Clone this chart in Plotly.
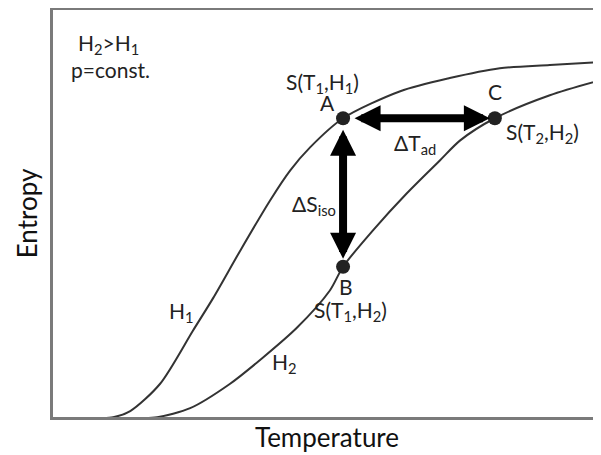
import plotly.graph_objects as go

# Curve H1 (lower field): temperature (0-100) vs entropy (0-100)
t_h1 = [0, 8.9, 11.3, 14.4, 19.8, 25.8, 29.5, 34.4, 39.8, 43.5, 47.1, 53.1, 63.5, 72.5, 81.6, 90.7, 100]
s_h1 = [0, 0, 0.2, 1.7, 8.3, 21.3, 29.3, 40.8, 53.0, 60.4, 66.0, 73.1, 79.7, 82.9, 85.3, 86.1, 86.8]

# Curve H2 (higher field)
t_h2 = [0, 16.2, 19.3, 25.3, 32.5, 38.5, 44.7, 50.7, 53.1, 58.5, 64.7, 70.7, 74.4, 80.7, 90.7, 100]
s_h2 = [0, 0, 0.2, 2.4, 8.3, 14.7, 22.0, 31.1, 36.9, 45.7, 54.8, 62.8, 67.7, 73.1, 78.7, 82.4]

# State points A, B, C
pt_names = ["A", "B", "C"]
pt_t = [53.1, 53.1, 80.7]
pt_s = [73.1, 36.9, 73.1]

FONT = "Lato"
CURVE = "#333333"
FRAME = "#7a7a7a"

fig = go.Figure()
fig.add_trace(go.Scatter(x=t_h1, y=s_h1, mode="lines", name="H1",
                         line=dict(color=CURVE, width=2, shape="spline", smoothing=0.8),
                         hoverinfo="skip"))
fig.add_trace(go.Scatter(x=t_h2, y=s_h2, mode="lines", name="H2",
                         line=dict(color=CURVE, width=2, shape="spline", smoothing=0.8),
                         hoverinfo="skip"))
fig.add_trace(go.Scatter(x=pt_t, y=pt_s, mode="markers", text=pt_names,
                         marker=dict(color="#222222", size=14)))

A = (pt_t[0], pt_s[0])
B = (pt_t[1], pt_s[1])
C = (pt_t[2], pt_s[2])

anns = []
# double arrows
anns.append(dict(x=C[0], y=C[1], ax=A[0], ay=A[1], xref="x", yref="y", axref="x", ayref="y",
                 text="", showarrow=True, arrowside="end+start", arrowhead=2, startarrowhead=2,
                 arrowsize=0.65, startarrowsize=0.65, arrowwidth=8, arrowcolor="#000000",
                 standoff=5, startstandoff=10))
anns.append(dict(x=B[0], y=B[1], ax=A[0], ay=A[1], xref="x", yref="y", axref="x", ayref="y",
                 text="", showarrow=True, arrowside="end+start", arrowhead=2, startarrowhead=2,
                 arrowsize=0.65, startarrowsize=0.65, arrowwidth=8, arrowcolor="#000000",
                 standoff=8, startstandoff=10))

labels = [
    ("H<sub>2</sub>>H<sub>1</sub>", 10.4, 91.3),
    ("p=const.", 10.9, 85.1),
    ("S(T<sub>1</sub>,H<sub>1</sub>)", 49.3, 81.6),
    ("A", 50.2, 77.0),
    ("C", 80.7, 79.7),
    ("S(T<sub>2</sub>,H<sub>2</sub>)", 89.3, 69.5),
    ("ΔT<sub>ad</sub>", 66.2, 66.8),
    ("ΔS<sub>iso</sub>", 47.8, 51.9),
    ("B", 53.6, 32.0),
    ("S(T<sub>1</sub>,H<sub>2</sub>)", 54.5, 26.0),
    ("H<sub>1</sub>", 23.8, 25.8),
    ("H<sub>2</sub>", 42.4, 13.3),
]
for txt, x, y in labels:
    anns.append(dict(x=x, y=y, xref="x", yref="y", text=txt, showarrow=False,
                     font=dict(family=FONT, size=21, color="#222222"),
                     xanchor="center", yanchor="middle"))

# page body has an 8px default margin, so the figure is sized to fit the window
fig.update_layout(
    width=593, height=447,
    margin=dict(l=45, r=0, t=2, b=38),
    paper_bgcolor="white", plot_bgcolor="white",
    showlegend=False,
    annotations=anns,
    font=dict(family=FONT, color="#222222"),
    xaxis=dict(range=[0.36, 100], showgrid=False, zeroline=False, showticklabels=False,
               ticks="", showline=True, linecolor=FRAME, linewidth=2.5, mirror=True,
               title=dict(text="Temperature", font=dict(family=FONT, size=26, color="#111111"),
                          standoff=11)),
    yaxis=dict(range=[0.25, 99.5], showgrid=False, zeroline=False, showticklabels=False,
               ticks="", showline=True, linecolor=FRAME, linewidth=2.5,
               title=dict(text="Entropy", font=dict(family=FONT, size=26, color="#111111"),
                          standoff=6)),
)

fig.write_html("out.html")
